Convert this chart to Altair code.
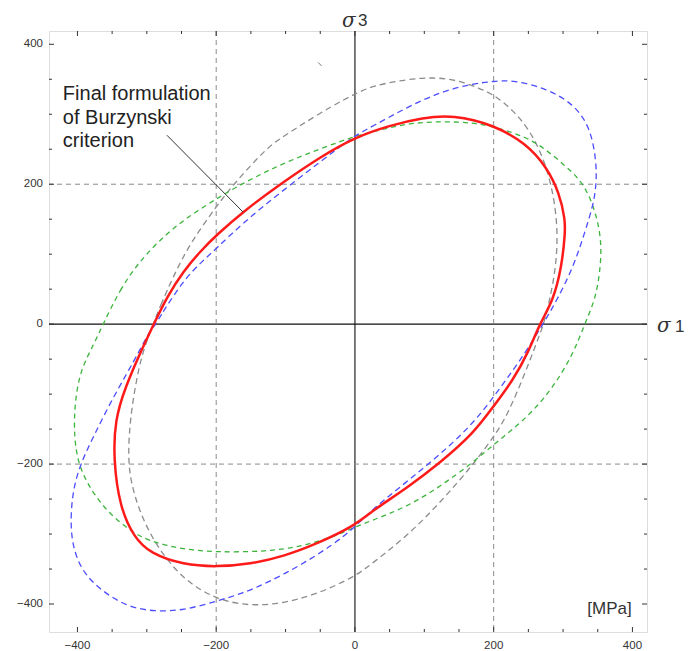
import altair as alt
import pandas as pd

# ---------------- data (MPa) ----------------
red_s1 = [-290, -271, -247, -223, -200, -161, -108, -50, 0, 50, 98, 141, 200, 247, 276, 295,
          303, 303, 298, 286, 266, 250, 228, 200, 171, 123, 75, 26, 0, -55, -103, -151, -199,
          -247, -295, -319, -339, -348, -346, -331, -310]
red_s3 = [0, 39, 76, 104, 127, 161, 200, 239, 267, 284, 295, 299, 285, 258, 225, 187,
          149, 130, 82, 34, 0, -40, -80, -117, -156, -198, -234, -266, -288, -314, -332, -343, -347,
          -344, -328, -304, -261, -194, -137, -90, -42]

blue_s1 = [-287, -281, -247, -223, -200, -161, -108, -50, 0, 26, 75, 123, 171, 200, 228, 276,
           315, 339, 348, 348, 344, 331, 315, 291, 271, 245, 209, 171, 123, 75, 26, 0, -31,
           -79, -127, -163, -199, -247, -288, -329, -367, -396, -411, -408, -396, -377, -353,
           -329, -310, -297]
blue_s3 = [0, 11, 63, 87, 108, 145, 188, 232, 270, 283, 310, 332, 344, 347, 349, 337,
           315, 282, 234, 200, 172, 130, 82, 34, 0, -42, -92, -142, -186, -225, -264, -290, -315,
           -345, -370, -385, -396, -409, -411, -404, -380, -351, -304, -242, -200, -161, -113,
           -71, -37, -12]

green_s1 = [-363, -339, -310, -271, -238, -200, -171, -127, -79, 0, 26, 75, 123, 171, 200,
            247, 276, 305, 331, 348, 356, 353, 346, 331, 315, 286, 257, 228, 200, 171, 123, 75, 26,
            0, -31, -79, -127, -199, -247, -295, -325, -358, -382, -399, -405, -404, -396, -376]
green_s3 = [0, 49, 91, 130, 155, 179, 196, 219, 240, 269, 275, 287, 290, 288, 282,
            268, 249, 225, 200, 158, 115, 72, 34, 0, -42, -90, -124, -150, -172, -197, -232, -261, -280,
            -290, -304, -318, -325, -326, -322, -311, -295, -267, -235, -200, -160, -113, -66, -28]

gray_s1 = [-291, -281, -262, -238, -200, -175, -128, -108, -79, -31, 0, 26, 75, 113, 147, 180,
           200, 228, 252, 271, 283, 291, 292, 286, 274, 267, 247, 219, 200, 171, 123, 75, 26, 0,
           -55, -103, -151, -199, -247, -286, -310, -324, -327, -324, -317, -307]
gray_s3 = [0, 25, 68, 115, 168, 200, 251, 265, 284, 313, 329, 341, 350, 353, 349, 337,
           328, 306, 277, 239, 200, 153, 106, 58, 6, -13, -66, -132, -161, -200, -255, -303, -341,
           -361, -386, -399, -403, -394, -366, -318, -270, -223, -185, -137, -90, -42]

tick_labels = [-400, -200, 0, 200, 400]
major_ticks = [-400, -200, 0, 200, 400]
minor_ticks = [-350, -300, -250, -150, -100, -50, 50, 100, 150, 250, 300, 350]
grid_values = [-200, 200]
zero_value = [0]

annotation_text = "Final formulation\nof Burzynski\ncriterion"
annotation_pos = [-421, 320]
leader_line = [-271, 270, -161, 160]
unit_text = "[MPa]"
unit_pos = [399, -414]
stray_mark = [-53, 374, -48, 369]

# ---------------- chart ----------------
W, H = 598, 601
xs = alt.Scale(domain=[-441, 421], nice=False, zero=False)
ys = alt.Scale(domain=[-440, 419], nice=False, zero=False)
XN = dict(scale=xs, axis=None)
YN = dict(scale=ys, axis=None)
LABEL_FONT = "Liberation Sans"
SIGMA_FONT = "DejaVu Serif"

zero_df = pd.DataFrame({"v": zero_value})
grid_df = pd.DataFrame({"v": grid_values})
major_df = pd.DataFrame({"v": major_ticks})
minor_df = pd.DataFrame({"v": minor_ticks})
lab_df = pd.DataFrame({"v": tick_labels})

vzero = alt.Chart(zero_df).mark_rule(color="#222", strokeWidth=1.2).encode(x=alt.X("v:Q", **XN))
hzero = alt.Chart(zero_df).mark_rule(color="#111", strokeWidth=1.3).encode(y=alt.Y("v:Q", **YN))

gx = alt.Chart(grid_df).mark_rule(color="#8a8a8a", strokeWidth=1, strokeDash=[5, 4]).encode(
    x=alt.X("v:Q", **XN))
gy = alt.Chart(grid_df).mark_rule(color="#8a8a8a", strokeWidth=1, strokeDash=[5, 4]).encode(
    y=alt.Y("v:Q", **YN))

xlab = alt.Chart(lab_df).mark_text(baseline="top", align="center", fontSize=11.5, font=LABEL_FONT,
                                   color="#333").encode(
    x=alt.X("v:Q", **XN), y=alt.value(H + 8), text=alt.Text("v:Q", format="d"))
ylab = alt.Chart(lab_df).mark_text(baseline="middle", align="right", fontSize=11.5, font=LABEL_FONT,
                                   color="#333").encode(
    y=alt.Y("v:Q", **YN), x=alt.value(-6), text=alt.Text("v:Q", format="d"))


def ticks(df, length):
    c = "#333"
    bottom = alt.Chart(df).mark_rule(color=c, strokeWidth=1).encode(
        x=alt.X("v:Q", **XN), y=alt.value(H), y2=alt.value(H - length))
    top = alt.Chart(df).mark_rule(color=c, strokeWidth=1).encode(
        x=alt.X("v:Q", **XN), y=alt.value(0), y2=alt.value(length))
    left = alt.Chart(df).mark_rule(color=c, strokeWidth=1).encode(
        y=alt.Y("v:Q", **YN), x=alt.value(0), x2=alt.value(length))
    right = alt.Chart(df).mark_rule(color=c, strokeWidth=1).encode(
        y=alt.Y("v:Q", **YN), x=alt.value(W), x2=alt.value(W - length))
    return [bottom, top, left, right]


def curve(xv, yv, color, width, dash=None):
    df = pd.DataFrame({"s1": xv, "s3": yv, "i": list(range(len(xv)))})
    kw = dict(color=color, strokeWidth=width, interpolate="basis-closed")
    if dash:
        kw["strokeDash"] = dash
    return alt.Chart(df).mark_line(**kw).encode(
        x=alt.X("s1:Q", **XN), y=alt.Y("s3:Q", **YN), order="i:Q")


gray_c = curve(gray_s1, gray_s3, "#8c8c8c", 1.3, [6, 4])
green_c = curve(green_s1, green_s3, "#3cb43c", 1.3, [5, 4])
blue_c = curve(blue_s1, blue_s3, "#4d4dff", 1.3, [6, 4])
red_c = curve(red_s1, red_s3, "#ff1a1a", 2.5)

lead_df = pd.DataFrame({"x": [leader_line[0], stray_mark[0]], "y": [leader_line[1], stray_mark[1]],
                        "x2": [leader_line[2], stray_mark[2]], "y2": [leader_line[3], stray_mark[3]],
                        "c": ["a", "b"]})
leader = alt.Chart(lead_df).mark_rule(strokeWidth=1).encode(
    x=alt.X("x:Q", **XN), y=alt.Y("y:Q", **YN), x2="x2:Q", y2="y2:Q",
    color=alt.Color("c:N", scale=alt.Scale(domain=["a", "b"], range=["#333", "#777"]), legend=None))

ann_df = pd.DataFrame({"x": [annotation_pos[0]], "y": [annotation_pos[1]], "t": [annotation_text]})
ann = alt.Chart(ann_df).mark_text(align="left", baseline="alphabetic", fontSize=20, font=LABEL_FONT,
                                  lineHeight=23.3, lineBreak="\n", color="#222").encode(
    x=alt.X("x:Q", **XN), y=alt.Y("y:Q", **YN), text="t:N")

unit_df = pd.DataFrame({"x": [unit_pos[0]], "y": [unit_pos[1]], "t": [unit_text]})
unit = alt.Chart(unit_df).mark_text(align="right", baseline="alphabetic", fontSize=17, font=LABEL_FONT,
                                    color="#333").encode(
    x=alt.X("x:Q", **XN), y=alt.Y("y:Q", **YN), text="t:N")

sig3 = alt.Chart(zero_df).mark_text(align="left", baseline="alphabetic", fontSize=20,
                                    font=SIGMA_FONT, fontStyle="italic", color="#333").encode(
    x=alt.value(293), y=alt.value(-4), text=alt.value("σ"))
sub3 = alt.Chart(zero_df).mark_text(align="left", baseline="alphabetic", fontSize=17,
                                    font=LABEL_FONT, color="#333").encode(
    x=alt.value(309), y=alt.value(-5), text=alt.value("3"))
sig1 = alt.Chart(zero_df).mark_text(align="left", baseline="alphabetic", fontSize=20,
                                    font=SIGMA_FONT, fontStyle="italic", color="#333").encode(
    x=alt.value(608), y=alt.value(301), text=alt.value("σ"))
sub1 = alt.Chart(zero_df).mark_text(align="left", baseline="alphabetic", fontSize=17,
                                    font=LABEL_FONT, color="#333").encode(
    x=alt.value(626), y=alt.value(301), text=alt.value("1"))

layers = [vzero, hzero, gx, gy, xlab, ylab] + ticks(major_df, 5) + ticks(minor_df, 3) + \
         [gray_c, green_c, blue_c, red_c, leader, ann, unit, sig3, sub3, sig1, sub1]

chart = alt.layer(*layers).properties(
    width=W, height=H,
    autosize=alt.AutoSizeParams(type="none"),
    padding={"left": 41, "top": 23, "right": 44, "bottom": 20},
).configure_view(stroke="#333", strokeWidth=1).configure(background="white")

chart.save("out.html", embed_options={"renderer": "svg", "actions": False})
